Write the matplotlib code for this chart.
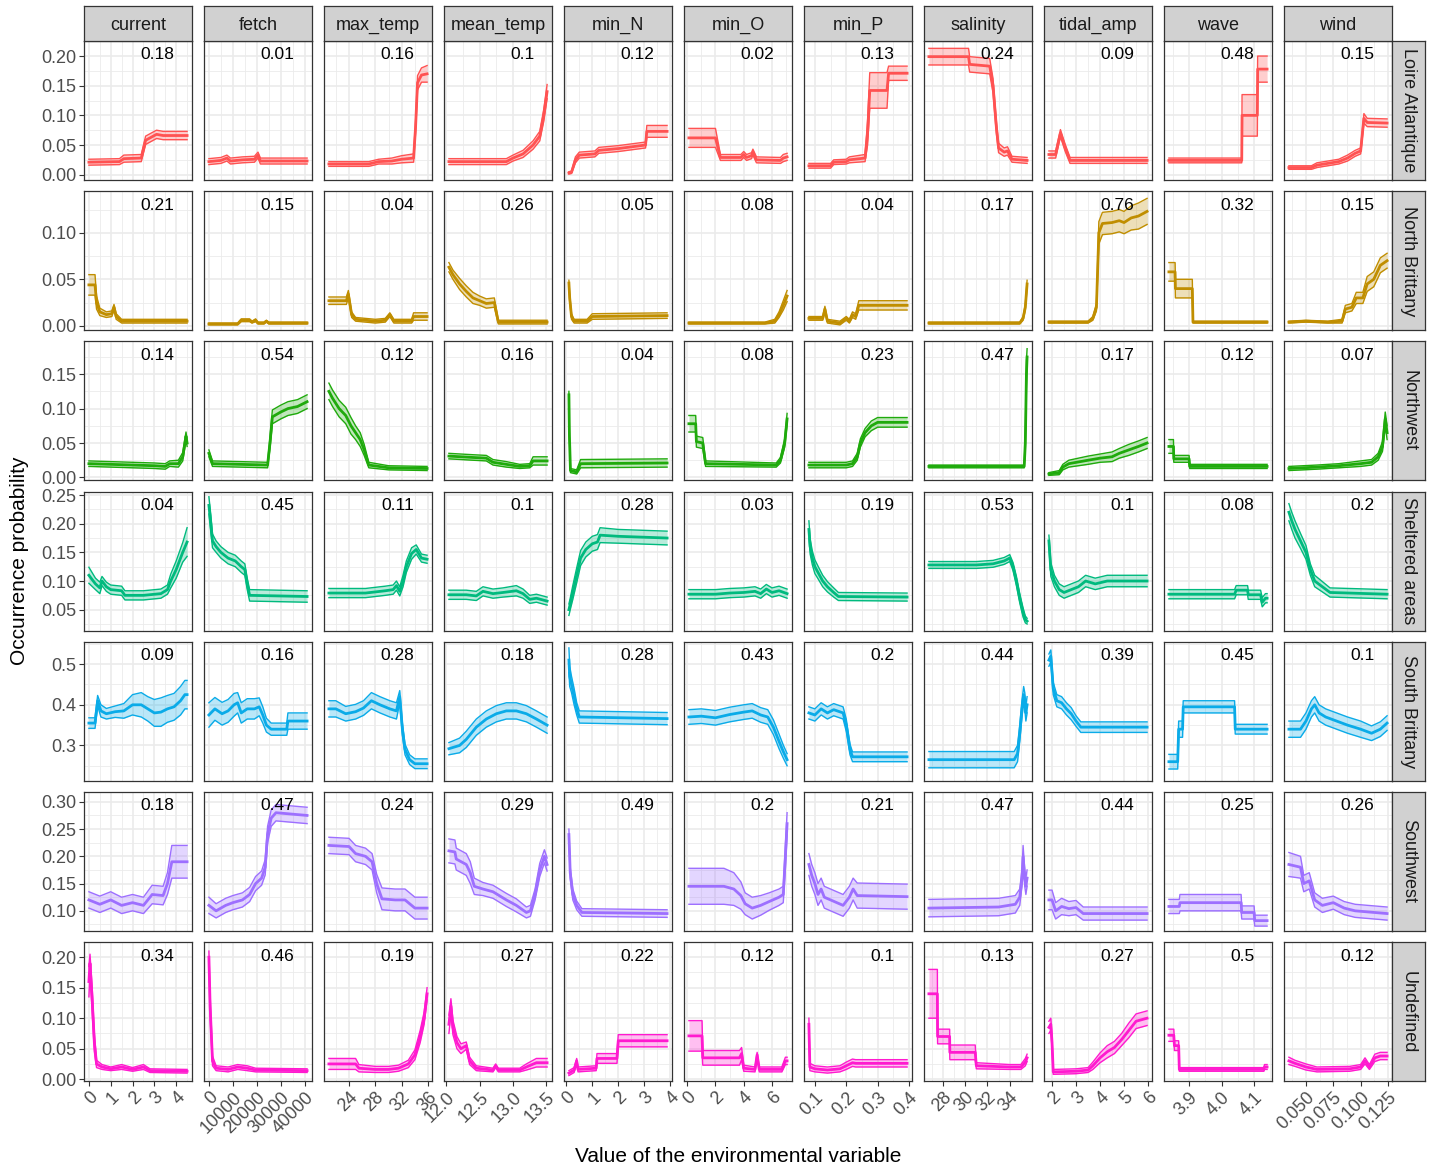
import matplotlib.pyplot as plt
import numpy as np

plt.rcParams['font.family'] = ['Liberation Sans', 'DejaVu Sans']

variables = ["current", "fetch", "max_temp", "mean_temp", "min_N", "min_O",
             "min_P", "salinity", "tidal_amp", "wave", "wind"]
regions = ["Loire Atlantique", "North Brittany", "Northwest", "Sheltered areas",
           "South Brittany", "Southwest", "Undefined"]
region_colors = ["#FF5252", "#C08E00", "#1FAA0C", "#00BA7E", "#0AABE8",
                 "#9D6FFF", "#FF1ACF"]

x_tick_labels = {
    "current": ["0", "1", "2", "3", "4"],
    "fetch": ["0", "10000", "20000", "30000", "40000"],
    "max_temp": ["24", "28", "32", "36"],
    "mean_temp": ["12.0", "12.5", "13.0", "13.5"],
    "min_N": ["0", "1", "2", "3", "4"],
    "min_O": ["0", "2", "4", "6"],
    "min_P": ["0.1", "0.2", "0.3", "0.4"],
    "salinity": ["28", "30", "32", "34"],
    "tidal_amp": ["2", "3", "4", "5", "6"],
    "wave": ["3.9", "4.0", "4.1"],
    "wind": ["0.050", "0.075", "0.100", "0.125"],
}
y_tick_labels = [
    ["0.00", "0.05", "0.10", "0.15", "0.20"],
    ["0.00", "0.05", "0.10"],
    ["0.00", "0.05", "0.10", "0.15"],
    ["0.05", "0.10", "0.15", "0.20", "0.25"],
    ["0.3", "0.4", "0.5"],
    ["0.10", "0.15", "0.20", "0.25", "0.30"],
    ["0.00", "0.05", "0.10", "0.15", "0.20"],
]
y_limits = [(-0.009, 0.2254), (-0.0047, 0.1447), (-0.0043, 0.1976), (0.0135, 0.256),
            (0.213, 0.555), (0.063, 0.318), (-0.0033, 0.2246)]

# response curves: (x, mean probability, half width of the band)
loire = {
    "current": [(0, .021, .005), (1.4, .022, .005), (1.6, .027, .006), (2.4, .028, .006), (2.6, .058, .007),
                (2.8, .062, .007), (3.1, .068, .007), (3.4, .066, .007), (4.5, .066, .007)],
    "fetch": [(0, .022, .005), (5000, .024, .005), (7500, .028, .005), (9000, .023, .005), (14000, .025, .005),
              (19000, .026, .005), (20500, .033, .005), (21500, .023, .005), (41000, .023, .005)],
    "max_temp": [(20.95, .018, .004), (27, .018, .004), (28.5, .022, .004), (30.5, .023, .005), (32, .026, .006),
                 (33.8, .028, .007), (34.1, .08, .01), (34.4, .155, .012), (35, .168, .012), (35.85, .17, .014)],
    "mean_temp": [(12.04, .022, .005), (12.9, .022, .005), (13.0, .028, .005), (13.15, .035, .006),
                  (13.3, .05, .007), (13.4, .065, .008), (13.46, .1, .01), (13.51, .14, .012)],
    "min_N": [(0.1, .003, .002), (0.2, .004, .002), (0.35, .025, .005), (0.5, .033, .005), (1.1, .035, .005),
              (1.25, .041, .005), (2.0, .044, .005), (3.05, .05, .005), (3.1, .073, .01), (3.88, .073, .01)],
    "min_O": [(0.12, .062, .016), (2.0, .062, .016), (2.35, .029, .005), (3.8, .029, .005), (4.0, .034, .005),
              (4.2, .029, .005), (4.55, .032, .005), (4.65, .038, .005), (4.9, .025, .005), (6.6, .024, .005),
              (6.8, .028, .006), (7.07, .03, .006)],
    "min_P": [(0.081, .015, .004), (0.15, .015, .004), (0.16, .021, .004), (0.2, .022, .004), (0.21, .025, .005),
              (0.26, .028, .006), (0.268, .07, .02), (0.275, .142, .03), (0.33, .142, .03), (0.335, .171, .012),
              (0.394, .171, .012)],
    "salinity": [(26.74, .199, .014), (30.3, .199, .014), (30.4, .186, .013), (32.2, .183, .013), (32.5, .15, .012),
                 (32.8, .08, .01), (33.0, .045, .008), (33.5, .038, .007), (33.8, .04, .007), (34.2, .026, .005),
                 (35.56, .024, .005)],
    "tidal_amp": [(1.87, .034, .006), (2.15, .034, .006), (2.35, .07, .006), (2.55, .045, .006), (2.75, .024, .005),
                  (5.96, .024, .005)],
    "wave": [(3.838, .024, .004), (4.062, .024, .004), (4.063, .1, .035), (4.11, .1, .035), (4.111, .178, .022),
             (4.14, .178, .022)],
    "wind": [(0.0344, .012, .003), (0.055, .012, .003), (0.06, .016, .004), (0.07, .019, .004), (0.08, .022, .004),
             (0.088, .028, .005), (0.095, .036, .005), (0.1, .04, .005), (0.103, .095, .008), (0.106, .088, .007),
             (0.1242, .087, .007)],
}
north_brittany = {
    "current": [(0, .044, .011), (0.28, .044, .011), (0.35, .025, .007), (0.5, .015, .004), (0.8, .012, .003),
                (1.05, .013, .003), (1.15, .02, .003), (1.25, .01, .003), (1.5, .005, .002), (4.5, .005, .002)],
    "fetch": [(0, .002, .001), (12000, .002, .001), (13500, .006, .0015), (17000, .006, .0015), (18000, .004, .001),
              (19500, .006, .0015), (20500, .003, .001), (23000, .003, .001), (24000, .005, .001),
              (25000, .003, .001), (41000, .003, .001)],
    "max_temp": [(20.95, .027, .004), (23.6, .027, .004), (23.9, .034, .004), (24.4, .012, .003), (25, .007, .002),
                 (28, .005, .002), (29.5, .006, .002), (30.2, .012, .002), (30.8, .005, .002), (33.5, .005, .002),
                 (33.8, .01, .004), (35.85, .01, .004)],
    "mean_temp": [(12.04, .063, .005), (12.1, .055, .005), (12.2, .045, .006), (12.3, .037, .006), (12.4, .03, .006),
                  (12.5, .027, .005), (12.6, .024, .005), (12.72, .025, .005), (12.78, .004, .002),
                  (13.51, .004, .002)],
    "min_N": [(0.1, .046, .003), (0.13, .03, .004), (0.2, .01, .003), (0.3, .005, .002), (0.8, .005, .002),
              (1.0, .01, .003), (3.88, .011, .003)],
    "min_O": [(0.12, .003, .001), (5.5, .003, .001), (6.2, .005, .002), (6.5, .012, .003), (6.8, .022, .005),
              (7.07, .032, .006)],
    "min_P": [(0.081, .008, .002), (0.125, .008, .002), (0.132, .018, .003), (0.14, .005, .002), (0.18, .003, .002),
              (0.2, .008, .002), (0.21, .005, .002), (0.22, .012, .003), (0.23, .01, .003), (0.24, .022, .005),
              (0.394, .022, .005)],
    "salinity": [(26.74, .003, .001), (34.9, .003, .001), (35.2, .008, .002), (35.4, .02, .003), (35.56, .045, .004)],
    "tidal_amp": [(1.87, .004, .001), (3.5, .004, .001), (3.7, .008, .002), (3.85, .02, .004), (3.95, .1, .012),
                  (4.1, .11, .012), (4.5, .111, .012), (4.8, .113, .012), (5.0, .111, .012), (5.3, .116, .013),
                  (5.6, .118, .014), (5.96, .123, .014)],
    "wave": [(3.838, .058, .01), (3.857, .058, .01), (3.858, .04, .01), (3.91, .04, .01), (3.912, .004, .001),
             (4.14, .004, .001)],
    "wind": [(0.0344, .004, .001), (0.05, .005, .001), (0.07, .004, .001), (0.083, .005, .002), (0.086, .018, .004),
             (0.092, .02, .004), (0.096, .03, .006), (0.102, .03, .006), (0.106, .045, .008), (0.112, .05, .008),
             (0.118, .065, .008), (0.1242, .07, .008)],
}
northwest = {
    "current": [(0, .02, .004), (1, .019, .004), (2, .018, .004), (3, .017, .004), (3.5, .016, .004),
                (3.7, .02, .004), (4.1, .02, .005), (4.3, .03, .006), (4.45, .06, .006), (4.5, .05, .005)],
    "fetch": [(0, .035, .005), (1500, .02, .004), (24500, .018, .004), (25500, .05, .008), (26500, .088, .01),
              (30000, .095, .01), (33000, .1, .01), (37000, .103, .01), (41000, .11, .01)],
    "max_temp": [(20.95, .125, .012), (21.5, .115, .012), (22.5, .1, .012), (23.5, .09, .012), (24.3, .075, .012),
                 (25, .065, .01), (25.7, .055, .01), (26.3, .04, .008), (27, .018, .004), (30, .014, .003),
                 (35.85, .013, .003)],
    "mean_temp": [(12.04, .031, .004), (12.4, .029, .004), (12.6, .028, .004), (12.7, .022, .004),
                  (12.9, .019, .004), (13.1, .016, .003), (13.25, .017, .003), (13.3, .024, .006),
                  (13.51, .024, .006)],
    "min_N": [(0.1, .12, .005), (0.12, .06, .005), (0.16, .01, .003), (0.4, .008, .003), (0.55, .02, .006),
              (3.88, .021, .006)],
    "min_O": [(0.12, .078, .012), (0.6, .078, .012), (0.65, .052, .008), (1.1, .05, .008), (1.3, .02, .004),
              (6.3, .018, .003), (6.6, .025, .004), (6.9, .05, .006), (7.07, .085, .008)],
    "min_P": [(0.081, .018, .004), (0.2, .018, .004), (0.22, .02, .004), (0.235, .03, .005), (0.245, .05, .006),
              (0.26, .065, .006), (0.28, .075, .007), (0.3, .08, .007), (0.394, .08, .007)],
    "salinity": [(26.74, .016, .002), (35.3, .016, .002), (35.4, .05, .01), (35.5, .15, .02), (35.56, .175, .012)],
    "tidal_amp": [(1.87, .005, .002), (2.3, .007, .003), (2.45, .015, .004), (2.7, .02, .005), (3.5, .025, .006),
                  (4.0, .028, .006), (4.5, .03, .007), (4.8, .035, .007), (5.2, .04, .008), (5.6, .045, .008),
                  (5.96, .05, .008)],
    "wave": [(3.838, .045, .01), (3.852, .045, .01), (3.853, .027, .005), (3.9, .027, .005), (3.902, .016, .003),
             (4.14, .016, .003)],
    "wind": [(0.0344, .013, .003), (0.06, .015, .003), (0.08, .017, .003), (0.1, .02, .004), (0.11, .022, .004),
             (0.116, .03, .005), (0.12, .045, .007), (0.1225, .085, .01), (0.1242, .065, .01)],
}
sheltered = {
    "current": [(0, .11, .014), (0.3, .095, .01), (0.5, .088, .01), (0.6, .1, .008), (0.8, .09, .008),
                (1.0, .085, .008), (1.5, .083, .008), (1.65, .075, .008), (2.5, .075, .008), (3.3, .078, .008),
                (3.6, .085, .008), (3.75, .1, .012), (4.0, .12, .015), (4.3, .15, .017), (4.5, .168, .025)],
    "fetch": [(0, .232, .015), (800, .2, .015), (1500, .17, .012), (3000, .16, .01), (5000, .15, .01),
              (8000, .14, .01), (11000, .135, .01), (13500, .125, .01), (15000, .12, .01), (16000, .095, .01),
              (17000, .075, .01), (41000, .073, .01)],
    "max_temp": [(20.95, .079, .008), (26.5, .079, .008), (28, .081, .008), (29.5, .083, .008), (30.7, .085, .008),
                 (31.2, .092, .008), (31.7, .082, .008), (32.2, .1, .01), (32.7, .125, .01), (33.5, .148, .01),
                 (34.2, .155, .008), (35, .14, .007), (35.85, .138, .007)],
    "mean_temp": [(12.04, .076, .008), (12.3, .076, .008), (12.45, .074, .008), (12.55, .082, .008),
                  (12.7, .078, .008), (12.85, .08, .008), (13.05, .083, .009), (13.15, .078, .008),
                  (13.25, .068, .007), (13.35, .07, .007), (13.51, .065, .007)],
    "min_N": [(0.1, .05, .01), (0.15, .06, .01), (0.25, .08, .012), (0.4, .11, .013), (0.55, .14, .013),
              (0.75, .155, .013), (1.0, .165, .013), (1.2, .168, .013), (1.3, .18, .013), (2.0, .178, .012),
              (3.88, .175, .012)],
    "min_O": [(0.12, .077, .008), (2.0, .077, .008), (3.0, .079, .008), (4.0, .08, .008), (4.8, .082, .008),
              (5.2, .078, .008), (5.6, .086, .008), (6.0, .08, .008), (6.5, .083, .008), (7.07, .078, .008)],
    "min_P": [(0.081, .19, .015), (0.085, .16, .013), (0.092, .14, .012), (0.1, .125, .012), (0.11, .115, .011),
              (0.125, .1, .01), (0.14, .09, .009), (0.16, .08, .008), (0.175, .073, .007), (0.394, .072, .007)],
    "salinity": [(26.74, .128, .006), (31, .128, .006), (32.5, .13, .006), (33.5, .135, .006), (34.0, .14, .006),
                 (34.3, .125, .007), (34.6, .1, .008), (34.9, .07, .008), (35.2, .045, .008), (35.4, .033, .006),
                 (35.56, .03, .005)],
    "tidal_amp": [(1.87, .17, .01), (1.95, .12, .012), (2.1, .1, .01), (2.3, .085, .01), (2.5, .08, .01),
                  (2.8, .085, .01), (3.1, .09, .01), (3.4, .1, .01), (3.8, .095, .01), (4.3, .1, .01),
                  (5.96, .1, .01)],
    "wave": [(3.838, .077, .008), (4.04, .077, .008), (4.045, .084, .008), (4.08, .084, .008), (4.082, .076, .008),
             (4.12, .076, .008), (4.125, .063, .008), (4.135, .07, .008), (4.14, .07, .008)],
    "wind": [(0.0344, .22, .015), (0.037, .205, .015), (0.04, .19, .015), (0.045, .17, .013), (0.05, .15, .012),
             (0.054, .12, .01), (0.058, .1, .01), (0.065, .09, .009), (0.072, .08, .008), (0.1242, .077, .008)],
}
south_brittany = {
    "current": [(0, .355, .013), (0.28, .355, .013), (0.4, .41, .013), (0.55, .385, .015), (0.8, .378, .013),
                (1.2, .383, .014), (1.6, .385, .018), (2.0, .4, .025), (2.4, .4, .03), (2.7, .39, .03),
                (3.0, .38, .033), (3.3, .382, .035), (3.6, .39, .033), (3.9, .395, .033), (4.2, .41, .035),
                (4.4, .425, .035), (4.5, .425, .035)],
    "fetch": [(0, .375, .03), (2500, .39, .028), (5500, .378, .028), (8000, .385, .028), (10500, .4, .028),
              (12000, .405, .025), (13500, .38, .025), (16000, .39, .025), (19000, .39, .025), (21000, .395, .022),
              (22500, .375, .02), (24000, .35, .017), (26000, .34, .015), (32500, .34, .015), (33000, .36, .02),
              (41000, .36, .02)],
    "max_temp": [(20.95, .39, .02), (22, .39, .02), (23.5, .378, .018), (25, .383, .018), (26.2, .392, .018),
                 (27.4, .41, .02), (28.7, .4, .02), (30.2, .39, .02), (31.2, .385, .02), (31.7, .42, .015),
                 (32.1, .34, .015), (32.5, .29, .013), (33.2, .265, .012), (34, .255, .012), (35.85, .255, .012)],
    "mean_temp": [(12.04, .292, .015), (12.2, .3, .018), (12.3, .315, .02), (12.45, .345, .02), (12.6, .365, .02),
                  (12.75, .378, .02), (12.9, .385, .02), (13.05, .385, .02), (13.2, .378, .02),
                  (13.35, .365, .02), (13.51, .35, .02)],
    "min_N": [(0.1, .51, .03), (0.13, .47, .025), (0.2, .45, .02), (0.3, .42, .02), (0.4, .39, .015),
              (0.5, .37, .015), (3.88, .366, .015)],
    "min_O": [(0.12, .37, .018), (1.0, .372, .018), (2.0, .368, .018), (3.0, .376, .018), (4.0, .382, .018),
              (4.6, .385, .018), (5.2, .375, .018), (5.7, .37, .018), (6.1, .345, .018), (6.5, .31, .018),
              (6.8, .285, .016), (7.07, .265, .015)],
    "min_P": [(0.081, .38, .015), (0.1, .375, .015), (0.12, .39, .015), (0.14, .38, .015), (0.16, .388, .015),
              (0.19, .38, .015), (0.2, .35, .015), (0.212, .29, .013), (0.22, .272, .012), (0.394, .272, .012)],
    "salinity": [(26.74, .265, .02), (34.4, .265, .02), (34.7, .28, .02), (34.9, .33, .02), (35.1, .39, .02),
                 (35.25, .425, .02), (35.35, .41, .02), (35.45, .38, .02), (35.56, .4, .02)],
    "tidal_amp": [(1.87, .51, .015), (1.95, .52, .015), (2.05, .44, .015), (2.2, .41, .015), (2.4, .405, .015),
                  (2.6, .39, .015), (2.8, .378, .015), (3.0, .36, .013), (3.2, .345, .013), (5.96, .345, .013)],
    "wave": [(3.838, .26, .018), (3.865, .26, .018), (3.868, .34, .02), (3.88, .34, .02), (3.882, .395, .015),
             (4.04, .395, .015), (4.042, .34, .012), (4.14, .34, .012)],
    "wind": [(0.0344, .34, .02), (0.045, .34, .02), (0.05, .36, .02), (0.055, .39, .02), (0.058, .4, .02),
             (0.062, .38, .02), (0.068, .37, .02), (0.078, .36, .02), (0.088, .35, .02), (0.1, .34, .02),
             (0.11, .33, .018), (0.118, .34, .018), (0.1242, .355, .018)],
}
southwest = {
    "current": [(0, .12, .015), (0.5, .112, .015), (1.0, .12, .015), (1.5, .11, .015), (2.0, .115, .015),
                (2.5, .11, .015), (2.9, .13, .017), (3.4, .128, .017), (3.6, .15, .02), (3.8, .19, .03),
                (4.5, .19, .03)],
    "fetch": [(0, .11, .015), (3000, .1, .013), (7000, .11, .013), (10000, .115, .013), (14000, .12, .013),
              (17000, .13, .013), (19500, .15, .013), (22000, .16, .013), (23500, .18, .014), (24500, .24, .015),
              (26000, .27, .015), (28000, .28, .015), (41000, .275, .015)],
    "max_temp": [(20.95, .22, .015), (24, .218, .015), (25, .205, .015), (26.5, .2, .015), (27.5, .19, .015),
                 (28.2, .15, .017), (29, .122, .02), (31, .12, .02), (32.5, .12, .02), (34, .105, .02),
                 (35.85, .105, .02)],
    "mean_temp": [(12.04, .21, .022), (12.13, .208, .022), (12.15, .195, .02), (12.3, .185, .02), (12.36, .17, .02),
                  (12.42, .145, .015), (12.55, .14, .012), (12.7, .135, .012), (12.9, .12, .012),
                  (13.05, .11, .012), (13.2, .097, .01), (13.26, .1, .01), (13.33, .13, .01),
                  (13.4, .175, .012), (13.47, .2, .012), (13.51, .185, .012)],
    "min_N": [(0.1, .24, .01), (0.15, .17, .01), (0.25, .13, .01), (0.4, .11, .008), (0.6, .097, .007),
              (3.88, .095, .007)],
    "min_O": [(0.12, .145, .033), (2.6, .145, .033), (3.3, .14, .03), (3.8, .128, .025), (4.1, .113, .02),
              (4.6, .105, .02), (5.2, .11, .018), (5.8, .117, .016), (6.5, .125, .015), (6.8, .13, .015),
              (6.95, .2, .02), (7.07, .26, .02)],
    "min_P": [(0.081, .185, .02), (0.09, .165, .02), (0.1, .15, .02), (0.11, .13, .02), (0.12, .14, .02),
              (0.13, .125, .02), (0.15, .12, .02), (0.17, .115, .02), (0.19, .11, .02), (0.21, .125, .02),
              (0.222, .14, .02), (0.235, .128, .023), (0.394, .126, .023)],
    "salinity": [(26.74, .105, .016), (33, .107, .016), (34.5, .112, .016), (34.9, .125, .015), (35.1, .16, .015),
                 (35.2, .2, .02), (35.35, .16, .015), (35.45, .145, .015), (35.56, .16, .015)],
    "tidal_amp": [(1.87, .12, .018), (2.0, .12, .018), (2.15, .1, .015), (2.4, .108, .015), (2.7, .104, .013),
                  (3.0, .106, .013), (3.3, .095, .012), (5.96, .095, .012)],
    "wave": [(3.838, .108, .013), (3.87, .108, .013), (3.872, .115, .015), (4.06, .115, .015), (4.062, .097, .012),
             (4.1, .097, .012), (4.102, .082, .01), (4.14, .082, .01)],
    "wind": [(0.0344, .185, .022), (0.045, .18, .02), (0.048, .15, .015), (0.053, .155, .015), (0.058, .12, .013),
             (0.065, .11, .013), (0.075, .115, .012), (0.085, .105, .012), (0.095, .1, .012), (0.1242, .095, .012)],
}
undefined = {
    "current": [(0, .16, .025), (0.05, .19, .015), (0.15, .13, .02), (0.25, .06, .015), (0.35, .025, .006),
                (0.6, .02, .004), (1.0, .017, .003), (1.5, .02, .004), (2.0, .016, .003), (2.5, .02, .004),
                (2.8, .014, .003), (4.5, .013, .003)],
    "fetch": [(0, .2, .01), (500, .12, .02), (1500, .03, .008), (3000, .018, .004), (8000, .016, .004),
              (12000, .02, .004), (16000, .018, .004), (19500, .015, .003), (41000, .014, .003)],
    "max_temp": [(20.95, .025, .009), (25, .025, .009), (25.5, .018, .006), (28, .016, .005), (30, .016, .005),
                 (31.5, .018, .005), (33, .025, .006), (34, .04, .008), (34.8, .07, .01), (35.4, .1, .01),
                 (35.85, .14, .01)],
    "mean_temp": [(12.04, .09, .015), (12.07, .12, .012), (12.1, .085, .012), (12.16, .06, .01), (12.22, .05, .008),
                  (12.3, .055, .006), (12.35, .03, .006), (12.45, .018, .004), (12.7, .015, .003),
                  (12.74, .022, .003), (12.78, .015, .003), (13.1, .015, .003), (13.2, .02, .005),
                  (13.35, .027, .007), (13.51, .027, .007)],
    "min_N": [(0.1, .01, .004), (0.3, .015, .004), (0.4, .03, .004), (0.45, .016, .004), (1.15, .018, .004),
              (1.18, .034, .008), (1.95, .034, .008), (2.0, .063, .01), (3.88, .063, .01)],
    "min_O": [(0.12, .071, .025), (1.05, .071, .025), (1.1, .035, .012), (3.7, .035, .012), (3.85, .042, .01),
              (4.0, .018, .005), (4.8, .016, .004), (4.95, .04, .004), (5.1, .016, .004), (6.7, .016, .004),
              (6.95, .03, .006), (7.07, .03, .006)],
    "min_P": [(0.081, .09, .01), (0.084, .02, .006), (0.1, .017, .005), (0.14, .015, .005), (0.18, .017, .005),
              (0.2, .022, .006), (0.22, .027, .006), (0.23, .026, .006), (0.394, .026, .006)],
    "salinity": [(26.74, .14, .04), (27.5, .14, .04), (27.52, .07, .012), (28.6, .07, .012), (28.62, .044, .012),
                 (30.9, .044, .012), (31.0, .022, .005), (34, .02, .004), (35, .02, .004), (35.4, .028, .006),
                 (35.56, .035, .006)],
    "tidal_amp": [(1.87, .085, .01), (1.95, .09, .01), (2.0, .06, .01), (2.05, .012, .004), (3.0, .013, .004),
                  (3.5, .015, .004), (3.7, .022, .006), (4.0, .035, .008), (4.3, .045, .01), (4.6, .052, .01),
                  (4.9, .065, .01), (5.2, .08, .012), (5.5, .095, .012), (5.96, .1, .012)],
    "wave": [(3.838, .072, .01), (3.853, .072, .01), (3.855, .055, .008), (3.868, .055, .008), (3.87, .016, .003),
             (4.13, .016, .003), (4.132, .02, .004), (4.14, .02, .004)],
    "wind": [(0.0344, .03, .006), (0.04, .026, .005), (0.05, .02, .005), (0.06, .016, .004), (0.09, .017, .004),
             (0.1, .02, .004), (0.104, .03, .005), (0.108, .02, .004), (0.113, .035, .006), (0.118, .038, .006),
             (0.1242, .038, .006)],
}

# variable importance printed in each panel
importance = [
    ["0.18", "0.01", "0.16", "0.1", "0.12", "0.02", "0.13", "0.24", "0.09", "0.48", "0.15"],
    ["0.21", "0.15", "0.04", "0.26", "0.05", "0.08", "0.04", "0.17", "0.76", "0.32", "0.15"],
    ["0.14", "0.54", "0.12", "0.16", "0.04", "0.08", "0.23", "0.47", "0.17", "0.12", "0.07"],
    ["0.04", "0.45", "0.11", "0.1", "0.28", "0.03", "0.19", "0.53", "0.1", "0.08", "0.2"],
    ["0.09", "0.16", "0.28", "0.18", "0.28", "0.43", "0.2", "0.44", "0.39", "0.45", "0.1"],
    ["0.18", "0.47", "0.24", "0.29", "0.49", "0.2", "0.21", "0.47", "0.44", "0.25", "0.26"],
    ["0.34", "0.46", "0.19", "0.27", "0.22", "0.12", "0.1", "0.13", "0.27", "0.5", "0.12"],
]

rows = [loire, north_brittany, northwest, sheltered, south_brittany, southwest, undefined]

W, H = 1434, 1170
fig = plt.figure(figsize=(W / 100, H / 100), dpi=100)


def box(x, y, w, h):
    return [x / W, 1 - (y + h) / H, w / W, h / H]


def minor_breaks(major, lim):
    step = major[1] - major[0]
    cand = [major[0] - step / 2] + [m + step / 2 for m in major]
    return [c for c in cand if lim[0] <= c <= lim[1]]


def strip(rect, label, rotation=0):
    sax = fig.add_axes(rect)
    sax.set_facecolor(strip_c)
    sax.set_xticks([])
    sax.set_yticks([])
    for s in sax.spines.values():
        s.set_color(frame_c)
        s.set_linewidth(0.9)
    sax.text(0.5, 0.5 if rotation else 0.45, label, rotation=rotation, ha="center",
             va="center", fontsize=13, color="#1A1A1A")


# shared x range per column, padded by 5% on each side
xlims = {}
for v in variables:
    xs = [p[0] for r in rows for p in r[v]]
    pad = 0.05 * (max(xs) - min(xs))
    xlims[v] = (min(xs) - pad, max(xs) + pad)

left0, col_step, pw = 84, 120, 108
top0, row_step, ph = 41, 150.2, 139
grid_c, frame_c, strip_c = "#EBEBEB", "#333333", "#D1D1D1"

for i, (region, color, data) in enumerate(zip(regions, region_colors, rows)):
    for j, v in enumerate(variables):
        ax = fig.add_axes(box(left0 + col_step * j, top0 + row_step * i, pw, ph))
        x, m, w = np.array(data[v]).T
        ax.fill_between(x, m - w, m + w, color=color, alpha=0.28, lw=0)
        ax.plot(x, m - w, color=color, lw=1.0)
        ax.plot(x, m + w, color=color, lw=1.0)
        ax.plot(x, m, color=color, lw=2.0)

        ax.set_xlim(xlims[v])
        ax.set_ylim(y_limits[i])
        xt = [float(t) for t in x_tick_labels[v]]
        yt = [float(t) for t in y_tick_labels[i]]
        ax.set_xticks(xt)
        ax.set_yticks(yt)
        ax.set_xticks(minor_breaks(xt, xlims[v]), minor=True)
        ax.set_yticks(minor_breaks(yt, y_limits[i]), minor=True)
        ax.grid(which="major", color=grid_c, lw=1.2)
        ax.grid(which="minor", color=grid_c, lw=0.6)
        ax.set_axisbelow(True)
        ax.tick_params(which="minor", length=0)
        ax.tick_params(which="major", length=3.5, width=0.8, color=frame_c,
                       labelsize=13, labelcolor="#4D4D4D", pad=2)
        for s in ax.spines.values():
            s.set_color(frame_c)
            s.set_linewidth(0.9)

        if j == 0:
            ax.set_yticklabels(y_tick_labels[i])
        else:
            ax.tick_params(axis="y", left=False, labelleft=False)
        if i == len(regions) - 1:
            ax.set_xticklabels(x_tick_labels[v], rotation=45, ha="right", va="top",
                               rotation_mode="anchor")
        else:
            ax.tick_params(axis="x", bottom=False, labelbottom=False)

        ax.text(0.835, 0.9, importance[i][j], transform=ax.transAxes, ha="right",
                va="center", fontsize=12.5, color="black")

        if i == 0:
            strip(box(left0 + col_step * j, 6, pw, top0 - 6), v)

    strip(box(left0 + col_step * 10 + pw, top0 + row_step * i, 33, ph), region, rotation=-90)

fig.text(20 / W, 1 - 561 / H, "Occurrence probability", rotation=90, ha="center", va="center",
         fontsize=15)
fig.text(738 / W, 1 - 1157 / H, "Value of the environmental variable", ha="center", va="center",
         fontsize=15)

fig.savefig("out.png", dpi=100)
